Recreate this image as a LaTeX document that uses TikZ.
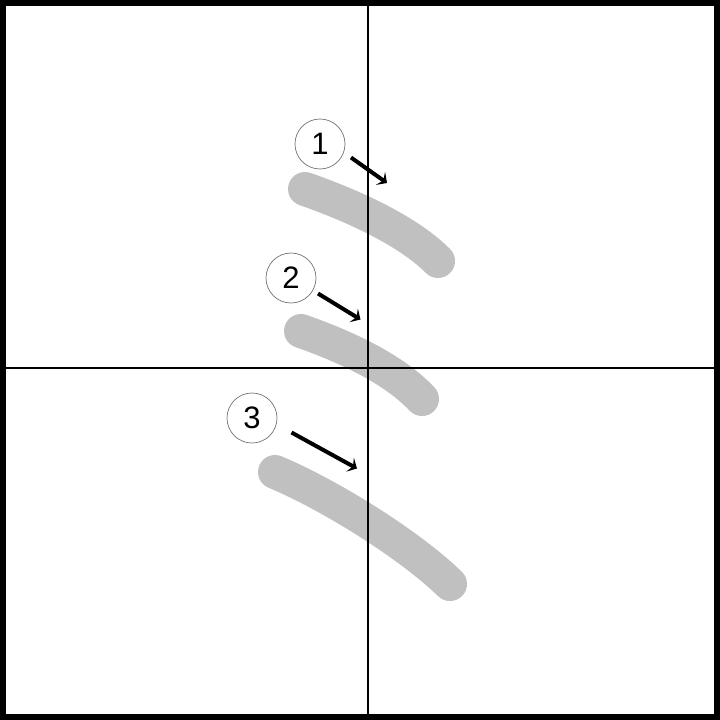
\documentclass[tikz,border=0pt]{standalone}
\usepackage{fontspec}
\setmainfont{Liberation Sans}
\usetikzlibrary{arrows.meta}
\definecolor{strokegray}{HTML}{C0C0C0}
\tikzset{
  numcircle/.style={circle,draw=black!55,line width=0.7pt,minimum size=50pt,inner sep=0pt,font=\fontsize{31}{31}\selectfont},
  orderarrow/.style={line width=4pt,-{Stealth[length=8pt,width=16pt,inset=3.5pt]}},
  kanjistroke/.style={strokegray,line width=34pt,line cap=round},
  guide/.style={black,line width=1.2pt}
}
\begin{document}
\begin{tikzpicture}[x=1pt,y=-1pt]
\useasboundingbox (0,0) rectangle (720,720);
\fill[white] (0,0) rectangle (720,720);
% strokes
\draw[kanjistroke] (305,189) .. controls (345,203) and (405,228) .. (438,261);
\draw[kanjistroke] (301,331) .. controls (335,343) and (390,365) .. (422,399);
\draw[kanjistroke] (275,472) .. controls (330,495) and (410,545) .. (450,584);
% guides
\coordinate (gt) at (368,0);
\coordinate (gb) at (368,720);
\coordinate (gl) at (0,368);
\coordinate (gr) at (720,368);
\draw[guide] (gt) -- (gb);
\draw[guide] (gl) -- (gr);
% frame
\draw[black,line width=6pt] (3,3) rectangle (717,717);
% numbers
\node[numcircle] (c1) at (320,144) {1};
\node[numcircle] (c2) at (291,278) {2};
\node[numcircle] (c3) at (252,418) {3};
% arrows
\coordinate (a1s) at (351,157.5);
\coordinate (a1e) at (387,183);
\coordinate (a2s) at (318,293.5);
\coordinate (a2e) at (360.5,319.5);
\coordinate (a3s) at (291.5,432.5);
\coordinate (a3e) at (357,468.5);
\draw[orderarrow] (a1s) -- (a1e);
\draw[orderarrow] (a2s) -- (a2e);
\draw[orderarrow] (a3s) -- (a3e);
\end{tikzpicture}
\end{document}
